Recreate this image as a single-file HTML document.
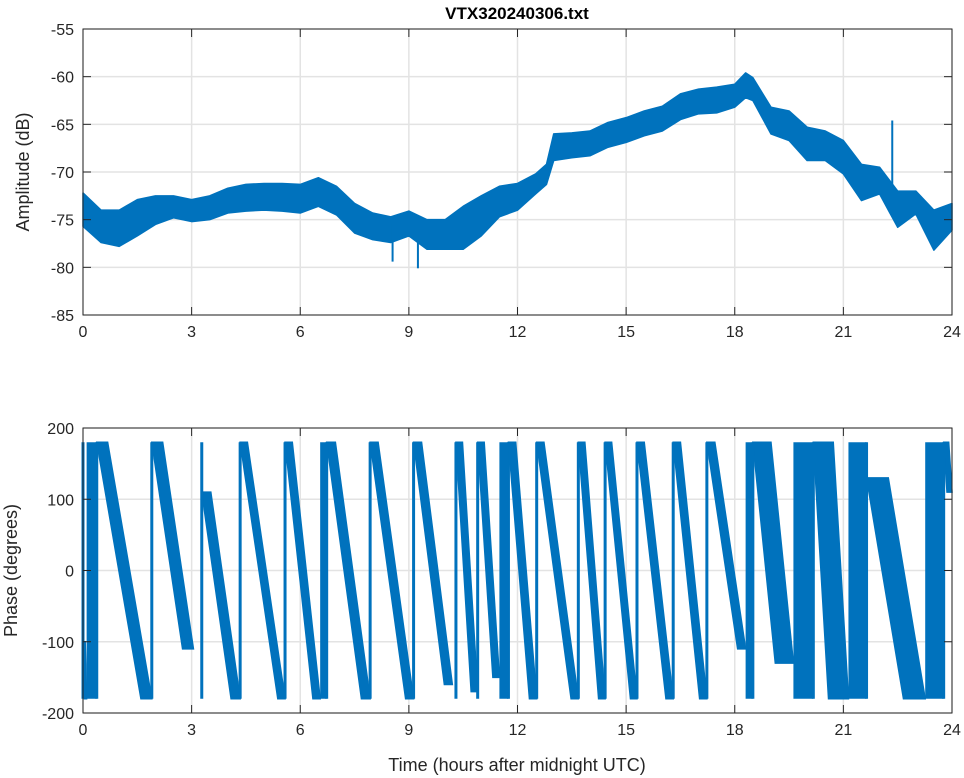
<!DOCTYPE html>
<html><head><meta charset="utf-8"><style>
body{margin:0;background:#fff;}
svg{display:block;font-family:"Liberation Sans",sans-serif;}
</style></head><body>
<svg id="c" width="964" height="778" viewBox="0 0 964 778"></svg>
<script>
// ---- data ----
const ampTimes=[0,0.5,1,1.5,2,2.5,3,3.5,4,4.5,5,5.5,6,6.5,7,7.5,8,8.5,9,9.5,10,10.5,11,11.5,12,12.5,12.8,13,13.5,14,14.5,15,15.5,16,16.5,17,17.5,18,18.3,18.5,19,19.5,20,20.5,21,21.5,22,22.5,23,23.5,24];
const ampHi=[-72.2,-74,-74,-72.9,-72.5,-72.5,-72.9,-72.5,-71.7,-71.3,-71.2,-71.2,-71.3,-70.6,-71.5,-73.3,-74.3,-74.7,-74.1,-75,-75,-73.6,-72.5,-71.5,-71.2,-70.2,-69.2,-66,-65.9,-65.7,-64.8,-64.3,-63.6,-63.1,-61.8,-61.3,-61.1,-60.8,-59.6,-60.1,-63.2,-63.6,-65.3,-65.7,-66.7,-69.2,-69.5,-72,-72,-74,-73.3];
const ampLo=[-75.7,-77.4,-77.8,-76.7,-75.5,-74.8,-75.2,-75,-74.3,-74.1,-74,-74.1,-74.3,-73.6,-74.5,-76.4,-77.1,-77.4,-76.7,-78.1,-78.1,-78.1,-76.7,-74.7,-74,-72.3,-71.3,-68.8,-68.5,-68.3,-67.4,-66.9,-66.2,-65.7,-64.5,-63.9,-63.8,-63.2,-62.2,-62.5,-66,-66.7,-68.8,-68.8,-70.2,-73,-72.3,-75.8,-74.4,-78.2,-76.1];
const spikeTimes=[8.55,9.25,22.35];
const spikeValues=[-79.4,-80.1,-64.6];
const rampStart=[0,0.38,1.9,3.28,4.34,5.58,6.73,7.93,9.13,10.3,10.9,11.75,12.53,13.68,14.42,15.3,16.3,17.23,18.5,20.17,21.64,23.77];
const rampEnd=[0.1,1.9,3.05,4.34,5.58,6.55,7.93,9.13,10.2,10.9,11.5,12.53,13.68,14.42,15.3,16.3,17.23,18.3,19.62,21.14,23.26,24];
const rampTop=[-100,180,180,110,180,180,180,180,180,180,180,180,180,180,180,180,180,180,180,180,130,180];
const rampBottom=[-180,-180,-110,-180,-180,-180,-180,-180,-160,-170,-150,-180,-180,-180,-180,-180,-180,-110,-130,-180,-180,110];
const rampWidth=[0.08,0.3,0.3,0.25,0.2,0.2,0.24,0.22,0.22,0.18,0.18,0.2,0.2,0.18,0.18,0.2,0.2,0.22,0.5,0.55,0.6,0.15];
const denseStart=[0.1,6.55,11.5,18.3,19.62,21.14,23.26];
const denseEnd=[0.38,6.73,11.75,18.5,20.17,21.64,23.77];
const xTicks=[0,3,6,9,12,15,18,21,24];
const ampTicks=[-55,-60,-65,-70,-75,-80,-85];
const phTicks=[200,100,0,-100,-200];
// ---- layout ----
const X0=83,X1=952,C='#0072BD';
const sx=t=>X0+(t/24)*(X1-X0);
const A={t:29,b:315,min:-85,max:-55};
const P={t:428,b:713,min:-200,max:200};
const sy=(ax,v)=>ax.b-(v-ax.min)/(ax.max-ax.min)*(ax.b-ax.t);
const svg=document.getElementById('c');
const NS='http://www.w3.org/2000/svg';
function mk(tag,attrs,parent){const e=document.createElementNS(NS,tag);for(const k in attrs)e.setAttribute(k,attrs[k]);(parent||svg).appendChild(e);return e;}
function axes(ax,ticks,name){
  const g=mk('g',{});
  
  
  xTicks.forEach(t=>{const l=mk('line',{x1:sx(t),x2:sx(t),y1:ax.t,y2:ax.b,stroke:'#e3e3e3','stroke-width':1.5},g);
    });
  ticks.forEach(v=>{const l=mk('line',{x1:X0,x2:X1,y1:sy(ax,v),y2:sy(ax,v),stroke:'#e3e3e3','stroke-width':1.5},g);
    });
}
function frame(ax,ticks,name,label){
  const g=mk('g',{});
  
  
  mk('rect',{x:X0,y:ax.t,width:X1-X0,height:ax.b-ax.t,fill:'none',stroke:'#262626','stroke-width':1},g);
  xTicks.forEach(t=>{
    mk('line',{x1:sx(t),x2:sx(t),y1:ax.b,y2:ax.b-8,stroke:'#262626'},g);
    mk('line',{x1:sx(t),x2:sx(t),y1:ax.t,y2:ax.t+8,stroke:'#262626'},g);
    const tx=mk('text',{x:sx(t),y:ax.b+22,'text-anchor':'middle','font-size':16,fill:'#262626'},g);
    tx.textContent=t;
    
  });
  ticks.forEach(v=>{
    mk('line',{x1:X0,x2:X0+8,y1:sy(ax,v),y2:sy(ax,v),stroke:'#262626'},g);
    mk('line',{x1:X1,x2:X1-8,y1:sy(ax,v),y2:sy(ax,v),stroke:'#262626'},g);
    const tx=mk('text',{x:X0-9,y:sy(ax,v)+6,'text-anchor':'end','font-size':16,fill:'#262626'},g);
    tx.textContent=v;
    
  });
  const yl=mk('text',{x:0,y:0,'text-anchor':'middle','font-size':18,fill:'#262626',transform:`translate(${name==='amplitude'?29:17},${(ax.t+ax.b)/2}) rotate(-90)`},g);
  yl.textContent=label;
  
}
// ---- amplitude ----
axes(A,ampTicks,'amplitude');
let pts=[];
ampTimes.forEach((t,i)=>pts.push(sx(t)+','+sy(A,ampHi[i])));
for(let i=ampTimes.length-1;i>=0;i--)pts.push(sx(ampTimes[i])+','+sy(A,ampLo[i]));
const band=mk('polygon',{points:pts.join(' '),fill:C,stroke:C,'stroke-width':1.5,'stroke-linejoin':'round'});


spikeTimes.forEach((t,i)=>{
  const k=ampTimes.findIndex(x=>x>t);
  const mid=(ampHi[k]+ampLo[k])/2;
  const s=mk('line',{x1:sx(t),x2:sx(t),y1:sy(A,mid),y2:sy(A,spikeValues[i]),stroke:C,'stroke-width':2});
  
  
});
frame(A,ampTicks,'amplitude','Amplitude (dB)');
// ---- phase ----
axes(P,phTicks,'phase');
const pg=mk('g',{});


rampStart.forEach((t0,i)=>{
  const t1=rampEnd[i],a=rampTop[i],b=rampBottom[i];
  const w=Math.min(rampWidth[i],(t1-t0)*0.6);
  const poly=[[t0,a],[t0+w,a],[t1,b],[t1-w,b]];
  const r=mk('polygon',{points:poly.map(p=>sx(p[0])+','+sy(P,p[1])).join(' '),fill:C,stroke:C,'stroke-width':1.5},pg);
  
  
  const j=mk('line',{x1:sx(t0),x2:sx(t0),y1:sy(P,-180),y2:sy(P,180),stroke:C,'stroke-width':3},pg);
  
  
});
denseStart.forEach((t0,i)=>{
  const r=mk('rect',{x:sx(t0),y:sy(P,180),width:sx(denseEnd[i])-sx(t0),height:sy(P,-180)-sy(P,180),fill:C},pg);
  
  
});
frame(P,phTicks,'phase','Phase (degrees)');
// ---- titles ----
const ti=mk('text',{x:517,y:19,'text-anchor':'middle','font-size':17,'font-weight':'bold',fill:'#000'});
ti.textContent='VTX320240306.txt';


const xl=mk('text',{x:517,y:771,'text-anchor':'middle','font-size':18,fill:'#262626'});
xl.textContent='Time (hours after midnight UTC)';


</script>
</body></html>
